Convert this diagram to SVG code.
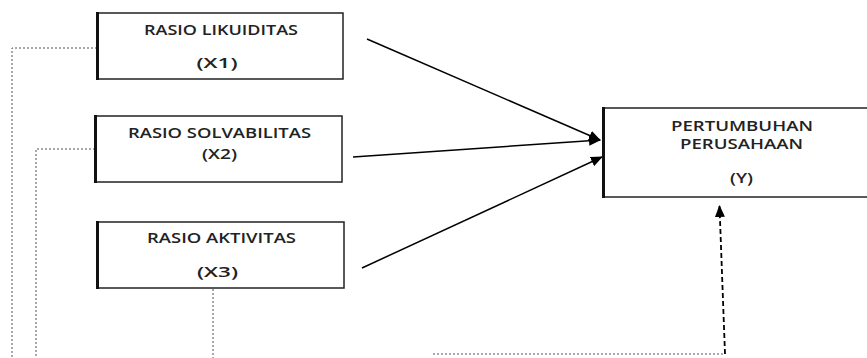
<svg xmlns="http://www.w3.org/2000/svg" width="867" height="358" viewBox="0 0 867 358">
<style>
.box{fill:#fff;stroke:#222;stroke-width:1.5}
.edge{stroke:#111;stroke-width:3}
.t{font-family:"Open Sans","Liberation Sans",sans-serif;font-size:14px;font-weight:600;fill:#222;text-anchor:middle}
.arr{stroke:#000;stroke-width:1.5;fill:none}
.dot{stroke:#555;stroke-width:1;stroke-dasharray:2,2;fill:none}
.dash{stroke:#000;stroke-width:1.8;stroke-dasharray:5,3;fill:none}
</style>
<defs>
<marker id="ah" markerWidth="12" markerHeight="10" refX="11" refY="5" orient="auto" markerUnits="userSpaceOnUse">
<path d="M0,0 L12,5 L0,10 Z" fill="#000"/>
</marker>
</defs>
<g id="connectors">
<path class="dot" d="M105,48 H12 V358"/>
<path class="dot" d="M95,149 H36 V358"/>
<path class="dot" d="M213,289 V358"/>
<path class="dot" d="M433,354 H725"/>
<path class="dash" d="M725,354 L719.5,206" marker-end="url(#ah)"/>
<path class="arr" d="M367,39 L600,140" marker-end="url(#ah)"/>
<path class="arr" d="M353,157 L600,140" marker-end="url(#ah)"/>
<path class="arr" d="M362,268 L602,157" marker-end="url(#ah)"/>
</g>
<g id="x1">
<rect class="box" x="97" y="13" width="246" height="66"/>
<line class="edge" x1="97.5" y1="12" x2="97.5" y2="80"/>
<text class="t" x="221" y="35" textLength="154" lengthAdjust="spacingAndGlyphs">RASIO LIKUIDITAS</text>
<text class="t" x="217" y="68" textLength="41" lengthAdjust="spacingAndGlyphs">(X1)</text>
</g>
<g id="x2">
<rect class="box" x="95" y="116" width="247" height="66"/>
<line class="edge" x1="95.5" y1="115" x2="95.5" y2="183"/>
<text class="t" x="219.5" y="138" textLength="183" lengthAdjust="spacingAndGlyphs">RASIO SOLVABILITAS</text>
<text class="t" x="219.5" y="159" textLength="35" lengthAdjust="spacingAndGlyphs">(X2)</text>
</g>
<g id="x3">
<rect class="box" x="97" y="222" width="247" height="66"/>
<line class="edge" x1="97.5" y1="221" x2="97.5" y2="289"/>
<text class="t" x="221.5" y="243" textLength="149" lengthAdjust="spacingAndGlyphs">RASIO AKTIVITAS</text>
<text class="t" x="217.5" y="277" textLength="41" lengthAdjust="spacingAndGlyphs">(X3)</text>
</g>
<g id="y">
<rect class="box" x="603" y="108" width="280" height="89"/>
<line class="edge" x1="603.5" y1="107" x2="603.5" y2="198"/>
<text class="t" x="742" y="131" textLength="142" lengthAdjust="spacingAndGlyphs">PERTUMBUHAN</text>
<text class="t" x="741.5" y="149" textLength="123" lengthAdjust="spacingAndGlyphs">PERUSAHAAN</text>
<text class="t" x="741.5" y="183" textLength="23" lengthAdjust="spacingAndGlyphs">(Y)</text>
</g>
</svg>
